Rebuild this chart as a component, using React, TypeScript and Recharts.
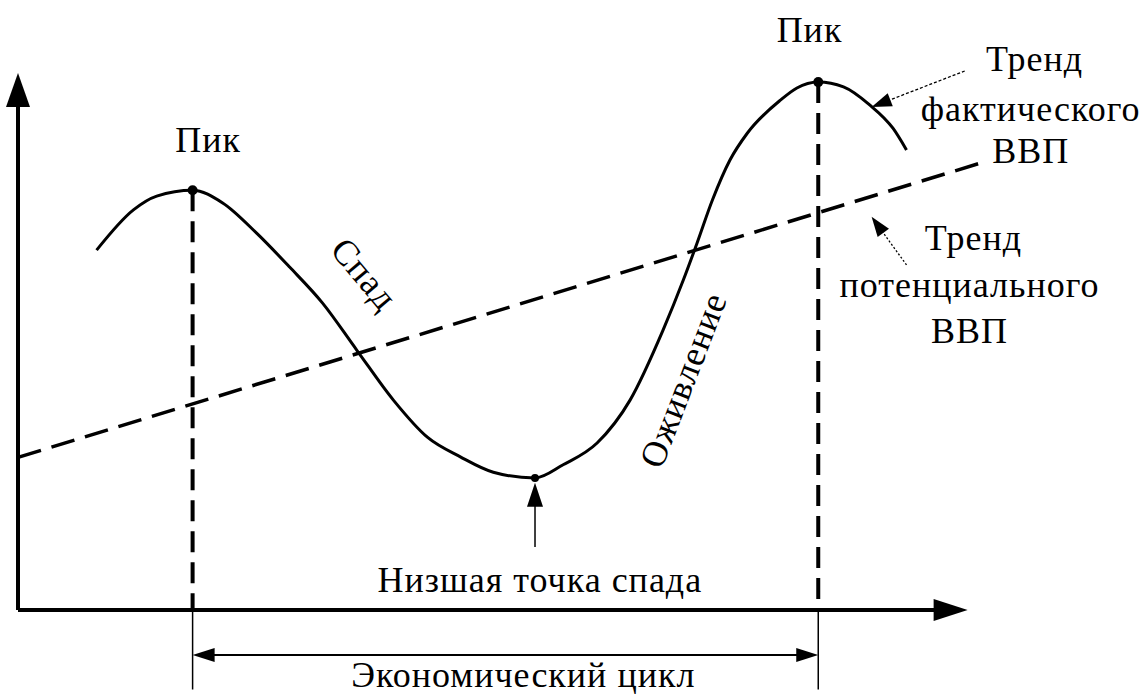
import React from "react";
import {
  ComposedChart,
  Line,
  XAxis,
  YAxis,
  ReferenceLine,
  ReferenceDot,
} from "recharts";

const actualT = [
  8.1, 11.9, 14.3, 18.0, 21.1, 24.6, 28.0, 31.4, 34.9, 38.7,
  42.2, 45.6, 49.0, 53.3, 56.2, 59.7, 63.1, 66.5, 68.6, 70.0,
  71.6, 73.4, 75.2, 78.6, 80.3, 82.5, 85.1, 87.8, 90.2, 91.6,
];
const actualGdp = [
  67.9, 75.5, 78.1, 79.2, 76.8, 71.1, 64.7, 57.9, 49.1, 39.6,
  32.6, 28.9, 26.0, 24.9, 27.4, 31.5, 39.6, 52.8, 62.3, 69.2,
  77.4, 84.9, 90.0, 96.2, 98.5, 99.6, 98.7, 95.3, 90.9, 86.8,
];

// potential GDP trend
const trendT = [0, 99];
const trendGdp = [28.8, 84.2];

// peaks and trough
const peakT = [18.0, 82.5];
const peakGdp = [79.2, 99.6];
const troughT = 53.3;
const troughGdp = 24.9;

// axis extents
const xAxisEnd = 97.9;
const yAxisEnd = 101.3;

const actualData = actualT.map((t, i) => ({ t, v: actualGdp[i] }));
const trendData = trendT.map((t, i) => ({ t, v: trendGdp[i] }));

// text annotations
const labels = [
  "Пик", "Пик", "Спад", "Оживление", "Низшая точка спада", "Экономический цикл",
  "Тренд", "фактического", "ВВП", "Тренд", "потенциального", "ВВП",
];
const labelT = [19.6, 81.6, 35.7, 68.6, 53.8, 52.1, 104.8, 104.4, 104.4, 98.5, 98.1, 98.1];
const labelV = [86.4, 107.2, 63.4, 43.4, 3.4, -14.6, 101.7, 92.3, 84.3, 67.9, 59.1, 50.4];
const labelRot = [0, 0, 50, -69, 0, 0, 0, 0, 0, 0, 0, 0];

const FONT = "Liberation Serif, Times New Roman, Times, Noto Serif, DejaVu Serif, serif";

type ArrowOpts = {
  width: number;
  head: number;
  headW: number;
  both?: boolean;
  dash?: string;
};

const headPoints = (x: number, y: number, a: number, len: number, w: number) => {
  const ux = Math.cos(a);
  const uy = Math.sin(a);
  const bx = x - ux * len;
  const by = y - uy * len;
  const px = -uy * (w / 2);
  const py = ux * (w / 2);
  return `${x},${y} ${bx + px},${by + py} ${bx - px},${by - py}`;
};

const arrowShape = (o: ArrowOpts) => (p: any) => {
  const { x1, y1, x2, y2 } = p;
  const a = Math.atan2(y2 - y1, x2 - x1);
  const ux = Math.cos(a);
  const uy = Math.sin(a);
  const sx = o.both ? x1 + ux * o.head * 0.8 : x1;
  const sy = o.both ? y1 + uy * o.head * 0.8 : y1;
  const ex = x2 - ux * o.head * 0.8;
  const ey = y2 - uy * o.head * 0.8;
  return (
    <g>
      <line
        x1={sx}
        y1={sy}
        x2={ex}
        y2={ey}
        stroke="#000"
        strokeWidth={o.width}
        strokeDasharray={o.dash}
      />
      <polygon points={headPoints(x2, y2, a, o.head, o.headW)} fill="#000" />
      {o.both && (
        <polygon points={headPoints(x1, y1, a + Math.PI, o.head, o.headW)} fill="#000" />
      )}
    </g>
  );
};

const plainLine = (width: number, dash?: string) => (p: any) => (
  <line
    x1={p.x1}
    y1={p.y1}
    x2={p.x2}
    y2={p.y2}
    stroke="#000"
    strokeWidth={width}
    strokeDasharray={dash}
  />
);

const textShape = (label: string, rotate: number) => (p: any) => (
  <text
    x={p.cx}
    y={p.cy}
    transform={rotate ? `rotate(${rotate} ${p.cx} ${p.cy})` : undefined}
    textAnchor="middle"
    dominantBaseline={rotate ? "central" : "alphabetic"}
    style={{ fontFamily: FONT, fontSize: 36, letterSpacing: 1 }}
    fill="#000"
  >
    {label}
  </text>
);

export default function App() {
  return (
    <div
      style={{
        position: "absolute",
        left: 0,
        top: 0,
        width: 1145,
        height: 698,
        background: "#fff",
        fontFamily: FONT,
      }}
    >
      <ComposedChart
        width={1145}
        height={698}
        margin={{ top: 80, right: 157, bottom: 88, left: 18 }}
      >
        <XAxis dataKey="t" type="number" domain={[0, 100]} hide />
        <YAxis type="number" domain={[0, 100]} hide />

        {/* axes */}
        <ReferenceLine
          segment={[{ x: 0, y: 0 }, { x: xAxisEnd, y: 0 }]}
          ifOverflow="visible"
          shape={arrowShape({ width: 4, head: 34, headW: 22 })}
        />
        <ReferenceLine
          segment={[{ x: 0, y: 0 }, { x: 0, y: yAxisEnd }]}
          ifOverflow="visible"
          shape={arrowShape({ width: 4, head: 34, headW: 24 })}
        />

        {/* peak verticals and cycle span */}
        {peakT.map((t, i) => (
          <ReferenceLine
            key={`pv${i}`}
            segment={[{ x: t, y: peakGdp[i] }, { x: t, y: 0 }]}
            ifOverflow="visible"
            shape={plainLine(4, "21 10")}
          />
        ))}
        {peakT.map((t, i) => (
          <ReferenceLine
            key={`pe${i}`}
            segment={[{ x: t, y: 0 }, { x: t, y: -15 }]}
            ifOverflow="visible"
            shape={plainLine(1.5)}
          />
        ))}
        <ReferenceLine
          segment={[{ x: peakT[0], y: -8.5 }, { x: peakT[1], y: -8.5 }]}
          ifOverflow="visible"
          shape={arrowShape({ width: 2, head: 22, headW: 14, both: true })}
        />

        {/* trough pointer */}
        <ReferenceLine
          segment={[{ x: troughT, y: 11.9 }, { x: troughT, y: 24.0 }]}
          ifOverflow="visible"
          shape={arrowShape({ width: 1.5, head: 24, headW: 16 })}
        />

        {/* trend label pointers */}
        <ReferenceLine
          segment={[{ x: 97.6, y: 101.7 }, { x: 88.0, y: 94.9 }]}
          ifOverflow="visible"
          shape={arrowShape({ width: 1.3, head: 20, headW: 14, dash: "3 2" })}
        />
        <ReferenceLine
          segment={[{ x: 91.6, y: 65.1 }, { x: 88.0, y: 74.2 }]}
          ifOverflow="visible"
          shape={arrowShape({ width: 1.3, head: 20, headW: 14, dash: "2 2" })}
        />

        <Line
          data={trendData}
          dataKey="v"
          type="linear"
          stroke="#000"
          strokeWidth={3.5}
          strokeDasharray="24 11"
          dot={false}
          activeDot={false}
          isAnimationActive={false}
        />
        <Line
          data={actualData}
          dataKey="v"
          type="monotone"
          stroke="#000"
          strokeWidth={3}
          dot={false}
          activeDot={false}
          isAnimationActive={false}
        />

        {peakT.map((t, i) => (
          <ReferenceDot
            key={`pd${i}`}
            x={t}
            y={peakGdp[i]}
            r={5}
            fill="#000"
            stroke="none"
            ifOverflow="visible"
          />
        ))}
        <ReferenceDot
          x={troughT}
          y={troughGdp}
          r={4}
          fill="#000"
          stroke="none"
          ifOverflow="visible"
        />

        {labels.map((s, i) => (
          <ReferenceDot
            key={`lb${i}`}
            x={labelT[i]}
            y={labelV[i]}
            r={0}
            ifOverflow="visible"
            shape={textShape(s, labelRot[i])}
          />
        ))}
      </ComposedChart>
    </div>
  );
}
